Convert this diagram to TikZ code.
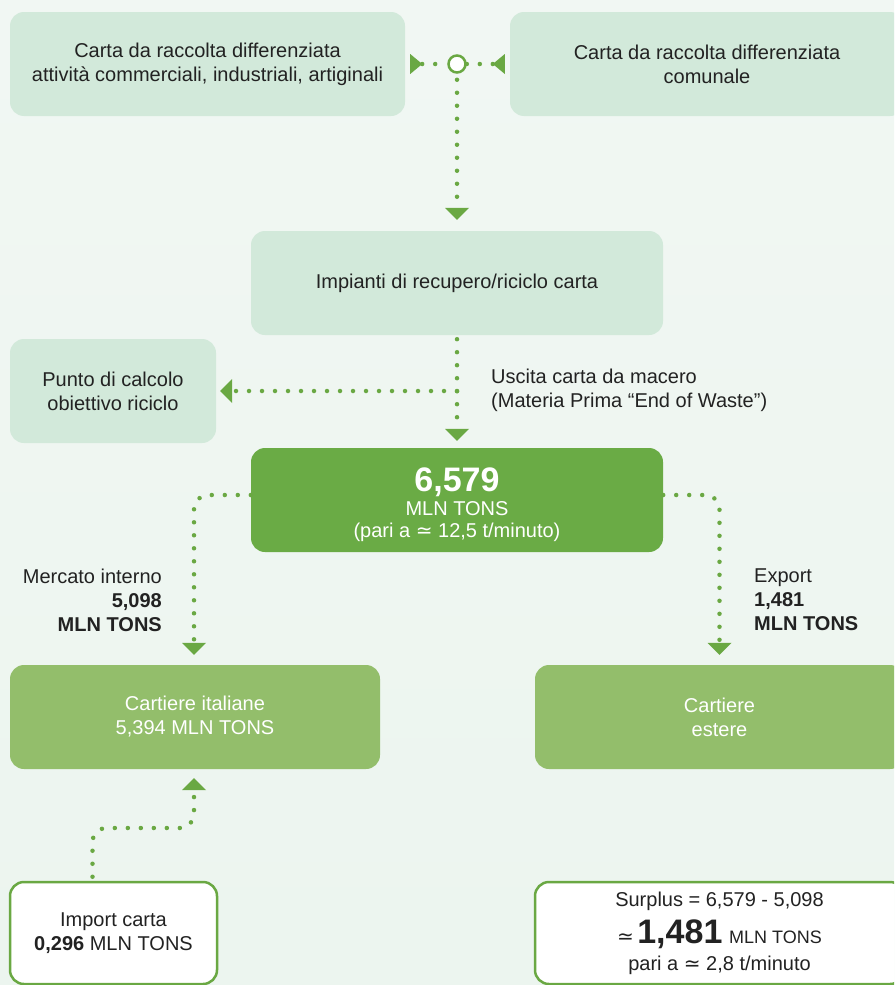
\documentclass[tikz,border=0pt]{standalone}
\usepackage{fontspec}
\setmainfont{Liberation Sans}
\newfontfamily\symf{DejaVu Sans}
\usetikzlibrary{arrows.meta,calc}
\definecolor{bg}{HTML}{ECF5EF}
\definecolor{bgtop}{HTML}{F1F7F3}
\definecolor{lightbox}{HTML}{D2E9DA}
\definecolor{darkbox}{HTML}{6AAB45}
\definecolor{midbox}{HTML}{93BE6B}
\definecolor{arr}{HTML}{6AA843}
\definecolor{txt}{HTML}{222222}
\newcommand{\apx}{{\symf ≃}}
\begin{document}
\begin{tikzpicture}[x=1pt,y=-1pt,
 box/.style={rounded corners=14pt, minimum height=104pt, inner sep=0pt, align=center, font=\fontsize{20}{24}\selectfont},
 lbox/.style={box, fill=lightbox, text=txt},
 dbox/.style={box, fill=darkbox, text=white},
 mbox/.style={box, fill=midbox, text=white},
 wbox/.style={box, fill=white, draw=arr, line width=2.5pt, text=txt},
 dotline/.style={arr, line width=4.5pt, line cap=round, dash pattern=on 0pt off 13pt},
 tip/.style={-{Triangle[width=24pt,length=12pt,line width=0pt]}},
 rtip/.style={{Triangle[reversed,width=20pt,length=12pt,line width=0pt]}-},
 lbl/.style={text=txt, font=\fontsize{20}{24}\selectfont, inner sep=0pt},
]
\clip (0,0) rectangle (894,985);
\shade[top color=bgtop, bottom color=bg] (0,0) rectangle (894,985);

\node[lbox, minimum width=395pt] (A) at (207.5,64) {Carta da raccolta differenziata\\attività commerciali, industriali, artiginali};
\node[lbox, minimum width=394pt] (B) at (707,64) {Carta da raccolta differenziata\\comunale};
\node[circle, draw=arr, fill=white, line width=2.5pt, minimum size=17pt, inner sep=0pt] (circ) at (457,64) {};
\node[lbox, minimum width=412pt] (C) at (457,283) {Impianti di recupero/riciclo carta};
\node[lbox, minimum width=206pt] (D) at (113,391) {Punto di calcolo\\obiettivo riciclo};
\node[dbox, minimum width=412pt] (E) at (457,500) {\rule{0pt}{34pt}{\fontsize{34}{36}\selectfont\bfseries 6,579}\\MLN TONS\\[-2pt](pari a \apx{} 12,5 t/minuto)};
\node[mbox, minimum width=370pt] (F) at (195,717) {Cartiere italiane\\5,394 MLN TONS};
\node[mbox, minimum width=369pt] (G) at (719.5,717) {Cartiere\\estere};
\node[wbox, minimum width=207pt, minimum height=102pt] (H) at (113.5,933) {Import carta\\\textbf{0,296} MLN TONS};
\node[wbox, minimum width=369pt, minimum height=102pt] (I) at (719.5,933) {Surplus = 6,579 - 5,098\\[8pt]{\apx}\,{\fontsize{34}{36}\selectfont\bfseries 1,481}\,\,{\fontsize{18}{20}\selectfont MLN TONS}\\[3pt]pari a \apx{} 2,8 t/minuto};

\node[lbl, anchor=west, align=left] (usc) at (491,390) {Uscita carta da macero\\(Materia Prima “End of Waste”)};
\node[lbl, anchor=east, align=right] (merc) at (162,600) {Mercato interno\\\textbf{5,098}\\\textbf{MLN TONS}};
\node[lbl, anchor=west, align=left] (exp) at (754,600) {Export\\\textbf{1,481}\\\textbf{MLN TONS}};

\coordinate (br) at (457,391);
\coordinate (mid) at (150,828);

\draw[dotline, rtip] ([xshift=5pt]A.east) -- (circ);
\draw[dotline, rtip] ([xshift=-5pt]B.west) -- (circ);
\draw[dotline, tip, shorten <=6pt, shorten >=11pt] (circ) -- (C.north);
\draw[dotline, tip, shorten <=4pt, shorten >=7pt] (C.south) -- (E.north);
\draw[dotline, tip, shorten >=4pt] (br) -- (D.east);
\draw[dotline, tip, rounded corners=14pt, shorten >=10pt] ([yshift=5pt]E.west) -| ([xshift=-1pt]F.north);
\draw[dotline, tip, rounded corners=14pt, shorten >=10pt] ([yshift=5pt]E.east) -| (G.north);
\draw[dotline, tip, rounded corners=14pt, shorten <=4pt, shorten >=9pt] ([xshift=-21pt]H.north) |- (mid) -| ([xshift=-1pt]F.south);
\end{tikzpicture}
\end{document}
